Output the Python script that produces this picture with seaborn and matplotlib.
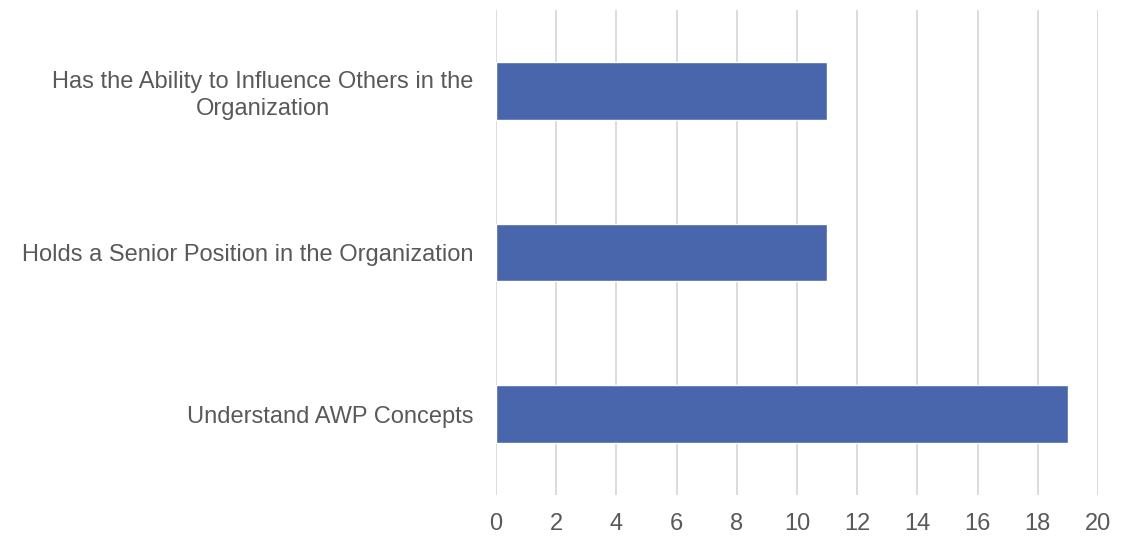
import matplotlib
matplotlib.use("Agg")
import matplotlib.pyplot as plt
import seaborn as sns
import pandas as pd

# категории сверху вниз и значения
categories = [
    "Has the Ability to Influence Others in the\nOrganization",
    "Holds a Senior Position in the Organization",
    "Understand AWP Concepts",
]
values = [11, 11, 19]
x_ticks = list(range(0, 21, 2))

df = pd.DataFrame({"category": categories, "value": values})

sns.set_theme(style="white")
plt.rcParams["font.family"] = ["Liberation Sans", "DejaVu Sans"]

fig = plt.figure(figsize=(11.37, 5.37), dpi=100)
ax = fig.add_axes([496 / 1137, 1 - 495 / 537, (1098 - 496) / 1137, 485 / 537])

sns.barplot(data=df, x="value", y="category", color="#4966AC",
            saturation=1, width=0.355, ax=ax)

ax.set_xlim(0, 20)
ax.set_ylim(2.5, -0.5)
ax.set_xticks(x_ticks)
ax.grid(axis="x", color="#D9D9D9", linewidth=1.3)
ax.set_axisbelow(True)
for s in ax.spines.values():
    s.set_visible(False)
ax.set_xlabel("")
ax.set_ylabel("")
ax.tick_params(axis="x", length=0, labelsize=17, labelcolor="#595959", pad=13)
ax.tick_params(axis="y", length=0, labelsize=17, labelcolor="#595959", pad=16)
for lbl in ax.get_yticklabels():
    lbl.set_multialignment("center")
    lbl.set_linespacing(1.3)

fig.savefig("out.png", dpi=100)
